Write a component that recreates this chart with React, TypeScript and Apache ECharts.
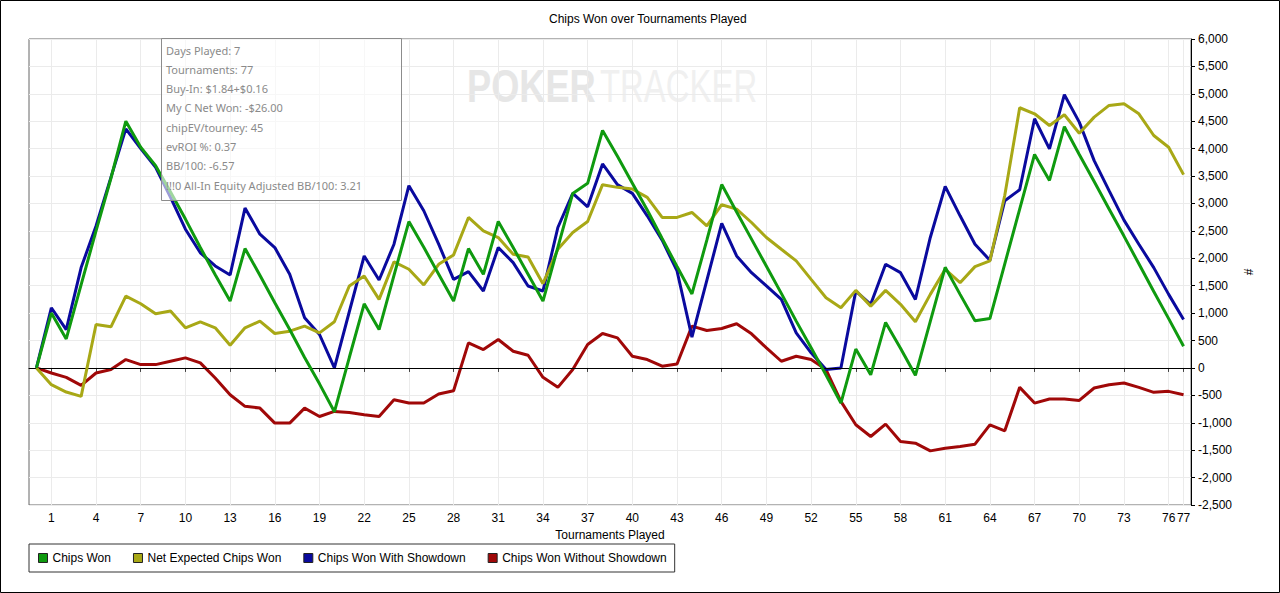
import React, { useEffect, useRef } from "react";
import * as echarts from "echarts";

const FONT = "'Liberation Sans', Arial, sans-serif";

const tournaments: string[] = Array.from({ length: 78 }, (_, i) => String(i));

const chipsWon: number[] = [
  0, 1000, 530, 1520, 2500, 3460, 4500, 4026, 3690, 3210,
  2715, 2196, 1700, 1220, 2178, 1690, 1190, 700, 190, -290,
  -800, 190, 1170, 700, 1690, 2670, 2200, 1710, 1220, 2178,
  1708, 2672, 2196, 1708, 1220, 2200, 3184, 3367, 4331, 3860,
  3370, 2880, 2360, 1850, 1350, 2330, 3345, 2845, 2350, 1855,
  1360, 854, 370, -130, -640, 345, -125, 830, 360, -134,
  850, 1835, 1342, 860, 900, 1900, 2897, 3895, 3420, 4400,
  3892, 3400, 2900, 2405, 1900, 1395, 900, 396,
];

const netExpectedChipsWon: number[] = [
  0, -305, -440, -519, 793, 750, 1311, 1171, 988, 1037,
  732, 842, 732, 415, 732, 854, 628, 671, 763, 640,
  842, 1494, 1677, 1250, 1934, 1800, 1513, 1891, 2062, 2745,
  2501, 2379, 2074, 2025, 1537, 2165, 2470, 2672, 3343, 3294,
  3263, 3111, 2745, 2745, 2836, 2592, 2977, 2897, 2653, 2379,
  2165, 1952, 1616, 1281, 1098, 1415, 1128, 1415, 1160, 842,
  1342, 1800, 1555, 1848, 1952, 3150, 4746, 4636, 4423, 4618,
  4282, 4575, 4789, 4819, 4636, 4240, 4026, 3526,
];

const chipsWonWithShowdown: number[] = [
  0, 1098, 700, 1830, 2590, 3477, 4360, 4000, 3660, 3110,
  2530, 2100, 1860, 1696, 2916, 2440, 2196, 1708, 915, 610,
  0, 1025, 2043, 1604, 2257, 3325, 2867, 2257, 1616, 1757,
  1403, 2196, 1922, 1495, 1403, 2562, 3184, 2940, 3721, 3343,
  3184, 2775, 2330, 1769, 561, 1598, 2635, 2043, 1738, 1495,
  1250, 640, 275, -30, 0, 1403, 1160, 1891, 1738, 1250,
  2380, 3312, 2775, 2257, 1964, 3050, 3250, 4545, 3995, 4984,
  4484, 3782, 3233, 2696, 2257, 1830, 1342, 885,
];

const chipsWonWithoutShowdown: number[] = [
  0, -92, -171, -317, -92, -30, 153, 61, 61, 122,
  183, 92, -183, -488, -700, -732, -1006, -1006, -732, -885,
  -793, -811, -854, -885, -580, -641, -641, -476, -415, 458,
  336, 519, 305, 232, -171, -354, -30, 427, 628, 549,
  214, 153, 31, 73, 763, 683, 720, 806, 622, 366,
  122, 214, 153, -30, -610, -1037, -1250, -1025, -1342, -1372,
  -1513, -1464, -1433, -1391, -1037, -1147, -354, -641, -567, -567,
  -592, -366, -305, -275, -354, -445, -427, -488,
];

const seriesNames: string[] = [
  "Chips Won",
  "Net Expected Chips Won",
  "Chips Won With Showdown",
  "Chips Won Without Showdown",
];

const seriesColors: string[] = ["#0f9a0f", "#a8a816", "#0a0a9e", "#a00808"];

const infoLines: string[] = [
  "Days Played: 7",
  "Tournaments: 77",
  "Buy-In: $1.84+$0.16",
  "My C Net Won: -$26.00",
  "chipEV/tourney: 45",
  "evROI %: 0.37",
  "BB/100: -6.57",
  "!!!0 All-In Equity Adjusted BB/100: 3.21",
];

const showTick = (index: number) => index === 77 || (index >= 1 && (index - 1) % 3 === 0);

export default function App() {
  const ref = useRef<HTMLDivElement>(null);

  useEffect(() => {
    if (!ref.current) return;
    const chart = echarts.init(ref.current, undefined, { renderer: "svg" });
    const dataSets = [chipsWon, netExpectedChipsWon, chipsWonWithShowdown, chipsWonWithoutShowdown];
    const zs = [6, 5, 4, 3];

    const series: any[] = dataSets.map((d, k) => ({
      name: seriesNames[k],
      type: "line",
      data: d,
      color: seriesColors[k],
      showSymbol: false,
      symbol: "none",
      z: zs[k],
      lineStyle: { width: 3, color: seriesColors[k] },
      itemStyle: { color: seriesColors[k] },
      ...(k === 3
        ? {
            markLine: {
              silent: true,
              symbol: ["none", "none"],
              label: { show: false },
              lineStyle: { color: "#000", width: 1, type: "solid" },
              data: [{ yAxis: 0 }],
            },
          }
        : {}),
    }));

    const infoTexts = infoLines.map((t, i) => ({
      type: "text",
      x: 166,
      y: 50 + i * 19.3,
      style: {
        text: t,
        fill: "#8a8a8a",
        font: "11px 'Noto Sans', sans-serif",
        textVerticalAlign: "middle",
        verticalAlign: "middle",
      },
    }));

    chart.setOption({
      animation: false,
      backgroundColor: "#fff",
      title: {
        text: "Chips Won over Tournaments Played",
        left: 549,
        top: 13,
        padding: 0,
        textStyle: { fontSize: 12, fontWeight: "normal", color: "#000", fontFamily: FONT },
      },
      grid: {
        left: 29,
        right: 89,
        top: 39,
        bottom: 88,
        show: true,
        borderColor: "#666",
        borderWidth: 1,
        backgroundColor: "transparent",
      },
      legend: {
        data: seriesNames,
        left: 29,
        top: 544,
        padding: [8, 8, 8, 9],
        borderColor: "#333",
        borderWidth: 1,
        icon: "rect",
        itemWidth: 9,
        itemHeight: 9,
        itemGap: 22,
        itemStyle: { borderColor: "#222", borderWidth: 1 },
        textStyle: { fontSize: 12, color: "#000", fontFamily: FONT },
      },
      xAxis: {
        type: "category",
        data: tournaments,
        boundaryGap: true,
        name: "Tournaments Played",
        nameLocation: "middle",
        nameGap: 23,
        nameTextStyle: { fontSize: 12, color: "#000", fontFamily: FONT },
        axisLine: { show: true, lineStyle: { color: "#000", width: 1 } },
        axisTick: {
          show: true,
          interval: (i: number) => showTick(i),
          alignWithLabel: true,
          length: 4,
          lineStyle: { color: "#444" },
        },
        axisLabel: {
          interval: (i: number) => showTick(i),
          margin: 7,
          color: "#000",
          fontSize: 12,
          fontFamily: FONT,
        },
        splitLine: {
          show: true,
          interval: (i: number) => showTick(i),
          alignWithLabel: true,
          lineStyle: { color: "#ebebeb", width: 1 },
        },
      },
      yAxis: {
        type: "value",
        position: "right",
        min: -2500,
        max: 6000,
        interval: 500,
        name: "#",
        nameLocation: "middle",
        nameGap: 45,
        nameRotate: 90,
        nameTextStyle: { fontSize: 12, color: "#000", fontFamily: FONT },
        axisLine: { show: true, lineStyle: { color: "#000", width: 1 } },
        axisTick: { show: true, length: 4, lineStyle: { color: "#000" } },
        axisLabel: {
          margin: 7,
          color: "#000",
          fontSize: 12,
          fontFamily: FONT,
          formatter: (v: number) => v.toLocaleString("en-US"),
        },
        splitLine: { show: true, lineStyle: { color: "#ebebeb", width: 1 } },
      },
      graphic: [
        {
          type: "rect",
          z: 100,
          shape: { x: 0.5, y: 0.5, width: 1279, height: 592 },
          style: { fill: "none", stroke: "#000", lineWidth: 1 },
        },
        {
          type: "text",
          z: 0,
          x: 467,
          y: 86,
          scaleX: 0.77,
          style: {
            text: "POKER",
            fill: "#e6e6e6",
            font: "bold 47px 'Liberation Sans', Arial, sans-serif",
            verticalAlign: "middle",
          },
        },
        {
          type: "text",
          z: 0,
          x: 600,
          y: 86,
          scaleX: 0.7,
          style: {
            text: "TRACKER",
            fill: "#f0f0f0",
            font: "47px 'Liberation Sans', Arial, sans-serif",
            verticalAlign: "middle",
          },
        },
        {
          type: "group",
          z: 100,
          children: [
            {
              type: "rect",
              z: 100,
              shape: { x: 161.5, y: 38.5, width: 240, height: 162 },
              style: { fill: "rgba(255,255,255,0.6)", stroke: "#8c8c8c", lineWidth: 1 },
            },
            ...infoTexts.map((t) => ({ ...t, z: 101 })),
          ],
        },
      ],
      series,
    });

    return () => {
      chart.dispose();
    };
  }, []);

  return (
    <div
      ref={ref}
      style={{ position: "absolute", left: 0, top: 0, width: 1280, height: 593 }}
    />
  );
}
